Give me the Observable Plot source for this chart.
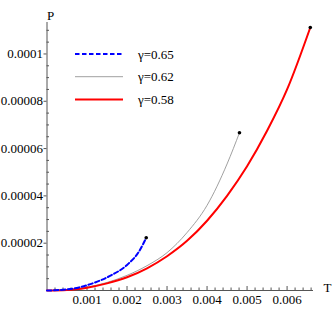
<!DOCTYPE html>
<html><head><meta charset="utf-8">
<script src="https://cdn.jsdelivr.net/npm/d3@7"></script>
<script src="https://cdn.jsdelivr.net/npm/@observablehq/plot@0.6"></script>
<style>
html,body{margin:0;padding:0;background:#fff;}
#chart{width:332px;height:310px;}
#chart svg{display:block;}
#chart svg text{font-family:"Liberation Serif","DejaVu Serif",serif !important;}
</style></head><body><div id="chart"></div>
<script>
// Series
const seriesNames = ["γ=0.65", "γ=0.62", "γ=0.58"];
const tBlue = [0, 0.0004, 0.0008, 0.0012, 0.0016, 0.002, 0.0023, 0.00248];
const pBlue = [0, 3e-7, 1.3e-6, 3.4e-6, 6.4e-6, 1.08e-5, 1.65e-5, 2.23e-5];
const tGray = [0, 0.0005, 0.001, 0.0015, 0.002, 0.0025, 0.003, 0.0035, 0.004, 0.0045, 0.00481];
const pGray = [0, 2.5e-7, 1.4e-6, 3.4e-6, 6.4e-6, 1.05e-5, 1.6e-5, 2.45e-5, 3.6e-5, 5.35e-5, 6.67e-5];
const tRed = [0, 0.0005, 0.001, 0.0015, 0.002, 0.0025, 0.003, 0.0035, 0.004, 0.0045, 0.005, 0.0055, 0.006, 0.00658];
const pRed = [0, 2e-7, 1.2e-6, 3.0e-6, 5.6e-6, 9.4e-6, 1.45e-5, 2.1e-5, 2.95e-5, 4.0e-5, 5.25e-5, 6.75e-5, 8.5e-5, 1.112e-4];

// Ticks
const xTicks = [0.001, 0.002, 0.003, 0.004, 0.005, 0.006];
const xTickLabels = ["0.001", "0.002", "0.003", "0.004", "0.005", "0.006"];
const yTicks = [0.00002, 0.00004, 0.00006, 0.00008, 0.0001];
const yTickLabels = ["0.00002", "0.00004", "0.00006", "0.00008", "0.0001"];
const xMinor = [0.0002,0.0004,0.0006,0.0008,0.0012,0.0014,0.0016,0.0018,0.0022,0.0024,0.0026,0.0028,0.0032,0.0034,0.0036,0.0038,0.0042,0.0044,0.0046,0.0048,0.0052,0.0054,0.0056,0.0058,0.0062,0.0064,0.0066];
const yMinor = [0.000005,0.00001,0.000015,0.000025,0.00003,0.000035,0.000045,0.00005,0.000055,0.000065,0.00007,0.000075,0.000085,0.00009,0.000095,0.000105,0.00011];

const toRows = (ts, ps, name) => ts.map((t, i) => ({T: t, P: ps[i], s: name}));
const blue = toRows(tBlue, pBlue, seriesNames[0]);
const gray = toRows(tGray, pGray, seriesNames[1]);
const red = toRows(tRed, pRed, seriesNames[2]);
const ends = [blue, gray, red].map(a => a[a.length - 1]);

const xLab = new Map(xTicks.map((d, i) => [d, xTickLabels[i]]));
const yLab = new Map(yTicks.map((d, i) => [d, yTickLabels[i]]));

const FONT = "'Liberation Serif', 'DejaVu Serif', serif";
const AX = "#555";

const chart = Plot.plot({
  width: 332, height: 310,
  marginLeft: 46.5, marginRight: 19, marginTop: 22, marginBottom: 20,
  style: {fontFamily: FONT, fontSize: "13px", background: "#fff", color: "#000"},
  x: {domain: [0, 0.00666], label: null, axis: null},
  y: {domain: [0, 0.0001133], label: null, axis: null},
  marks: [
    Plot.ruleY([0], {stroke: AX, strokeWidth: 1}),
    Plot.ruleX([0], {stroke: AX, strokeWidth: 1}),
    Plot.axisX(xMinor, {anchor: "bottom", tickSize: -2.5, tickFormat: () => "", stroke: AX, label: null}),
    Plot.axisX(xTicks, {anchor: "bottom", tickSize: -4, tickFormat: () => "", stroke: AX, label: null}),
    Plot.axisX(xTicks, {anchor: "bottom", tickSize: 0, tickPadding: 4, tickFormat: d => xLab.get(d), fontSize: 13, fill: "#000", label: null}),
    Plot.axisY(yMinor, {anchor: "left", tickSize: -2.5, tickFormat: () => "", stroke: AX, label: null}),
    Plot.axisY(yTicks, {anchor: "left", tickSize: 3, tickFormat: () => "", stroke: AX, label: null}),
    Plot.axisY(yTicks, {anchor: "left", tickSize: 0, tickPadding: 4, tickFormat: d => yLab.get(d), fontSize: 13, fill: "#000", label: null}),
    Plot.line(gray, {x: "T", y: "P", stroke: "#888", strokeWidth: 0.8, curve: "monotone-x"}),
    Plot.line(red, {x: "T", y: "P", stroke: "#ff0000", strokeWidth: 2, curve: "monotone-x"}),
    Plot.line(blue, {x: "T", y: "P", stroke: "#0000ff", strokeWidth: 2, strokeDasharray: "4.5,2.5", curve: "monotone-x"}),
    Plot.dot(ends, {x: "T", y: "P", r: 1.8, fill: "#000", stroke: null}),
    Plot.text(["P"], {frameAnchor: "top-left", dx: 0, dy: -12, fontSize: 13, fill: "#000"}),
    Plot.text(["T"], {frameAnchor: "bottom-right", dx: 10, dy: 1, fontSize: 13, fill: "#000", textAnchor: "start"})
  ]
});
document.getElementById("chart").appendChild(chart);

// Legend (inside the plot area, top-left)
const svg = d3.select(chart);
const legendStyles = [
  {stroke: "#0000ff", width: 2, dash: "4.5,2.5"},
  {stroke: "#888", width: 0.8, dash: null},
  {stroke: "#ff0000", width: 2, dash: null}
];
const lg = svg.append("g").attr("transform", "translate(75,54)");
seriesNames.forEach((name, i) => {
  const row = lg.append("g").attr("transform", `translate(0,${i * 22.7})`);
  row.append("line").attr("x1", 0).attr("x2", 48).attr("y1", 0).attr("y2", 0)
    .attr("stroke", legendStyles[i].stroke).attr("stroke-width", legendStyles[i].width)
    .attr("stroke-dasharray", legendStyles[i].dash);
  row.append("text").attr("x", 63).attr("y", 4.5).attr("font-size", 13)
    .attr("text-anchor", "start").attr("fill", "#000").text(name);
});
</script>
</body></html>
